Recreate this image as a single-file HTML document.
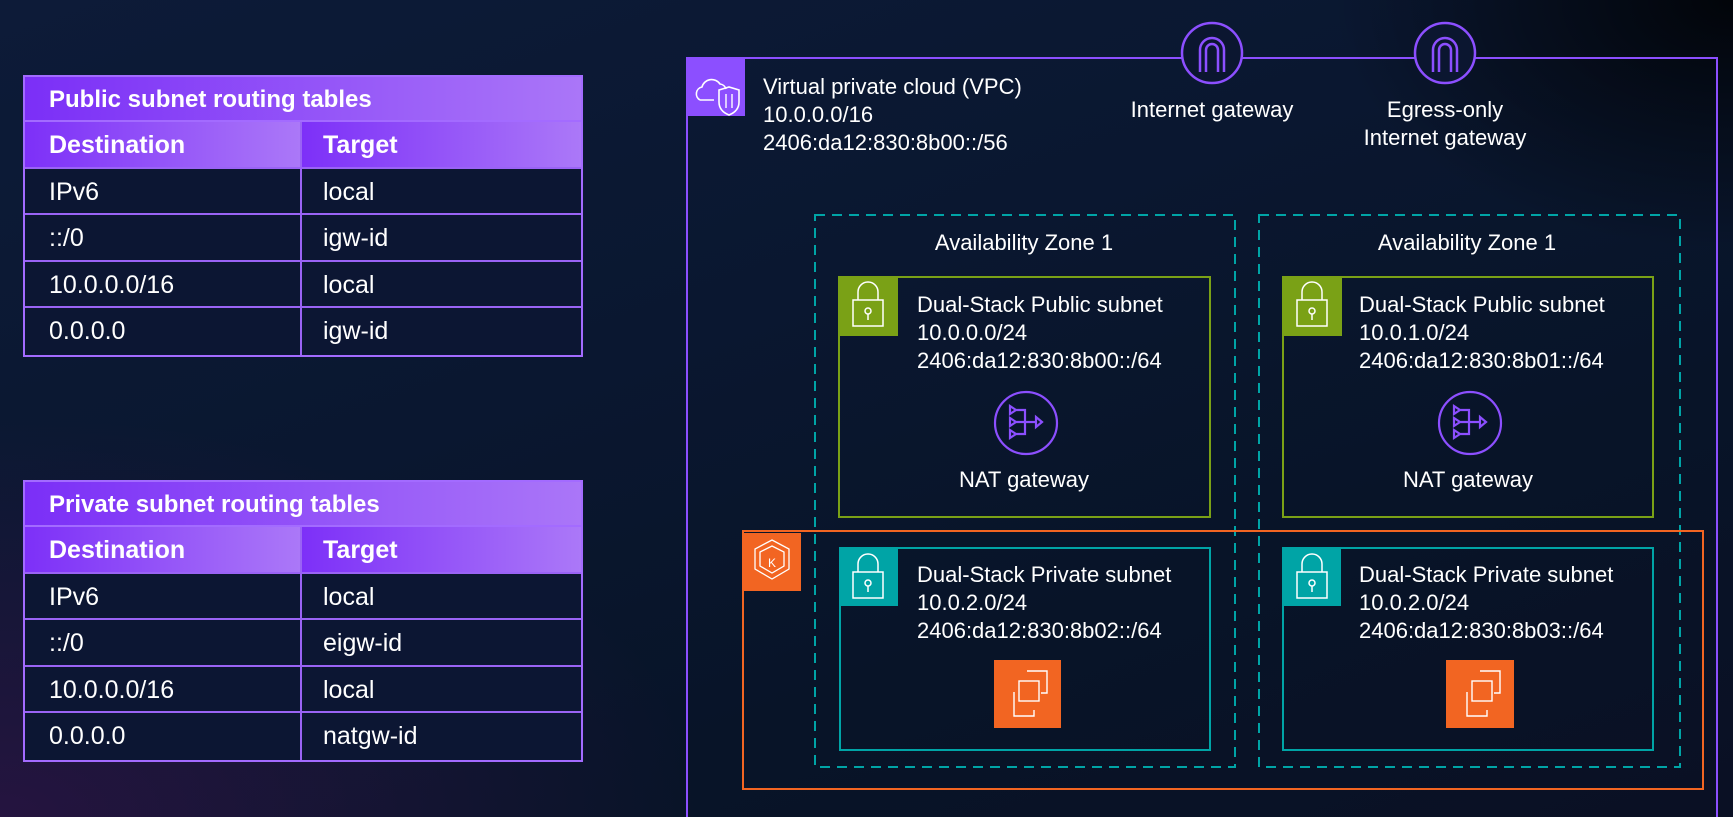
<!DOCTYPE html>
<html><head><meta charset="utf-8"><style>
*{margin:0;padding:0;box-sizing:border-box}
html,body{width:1733px;height:817px;overflow:hidden}
body{position:relative;font-family:"Liberation Sans",sans-serif;color:#fff;
background:linear-gradient(160deg,#0d1b38 0%,#0a1730 40%,#081428 70%,#0a1024 100%);}
.bg2{position:absolute;left:0;top:0;width:1733px;height:817px;background:radial-gradient(ellipse 700px 400px at 0% 100%,rgba(60,20,80,0.55),rgba(0,0,0,0));}
.bg3{position:absolute;left:0;top:0;width:1733px;height:817px;background:radial-gradient(ellipse 400px 250px at 100% 0%,rgba(0,0,0,0.8),rgba(0,0,0,0));}
.t{position:absolute;left:23px;width:560px;border:2px solid #a36bff;background:#0c1633}
.t .title{height:45px;background:linear-gradient(90deg,#7b2ff7,#aa76f8);font-weight:bold;font-size:24px;line-height:46px;padding-left:24px;border-bottom:2px solid #a36bff}
.t .row{display:flex;height:46.5px;border-bottom:2px solid #9a63f5;font-size:25px;line-height:46px}
.t .row:last-child{border-bottom:none}
.t .c1{width:277px;padding-left:24px;border-right:2px solid #9a63f5}
.t .c2{flex:1;padding-left:21px}
.t .hd .c1,.t .hd .c2{background:linear-gradient(90deg,#7d30f8,#ab78f8);font-weight:bold;font-size:25px}
.txt{position:absolute;font-size:22px;line-height:28px;white-space:nowrap}
</style></head><body>
<div class="bg2"></div><div class="bg3"></div>

<div class="t" style="top:75px">
<div class="title">Public subnet routing tables</div>
<div class="row hd"><div class="c1">Destination</div><div class="c2">Target</div></div>
<div class="row"><div class="c1">IPv6</div><div class="c2">local</div></div>
<div class="row"><div class="c1">::/0</div><div class="c2">igw-id</div></div>
<div class="row"><div class="c1">10.0.0.0/16</div><div class="c2">local</div></div>
<div class="row"><div class="c1">0.0.0.0</div><div class="c2">igw-id</div></div>
</div>
<div class="t" style="top:480px">
<div class="title">Private subnet routing tables</div>
<div class="row hd"><div class="c1">Destination</div><div class="c2">Target</div></div>
<div class="row"><div class="c1">IPv6</div><div class="c2">local</div></div>
<div class="row"><div class="c1">::/0</div><div class="c2">eigw-id</div></div>
<div class="row"><div class="c1">10.0.0.0/16</div><div class="c2">local</div></div>
<div class="row"><div class="c1">0.0.0.0</div><div class="c2">natgw-id</div></div>
</div>

<svg width="1733" height="817" style="position:absolute;left:0;top:0" fill="none">
<rect x="687" y="58" width="1030" height="770" stroke="#8c4fff" stroke-width="2"/>
<rect x="686" y="57" width="59" height="59" fill="#8c4fff"/>
<path d="M700 100 h14 M700 100 a7 7 0 0 1 2 -13 a10 10 0 0 1 18 -3 a7 7 0 0 1 6 5" stroke="#fff" stroke-width="1.6"/>
<path d="M719 90 l10 -3 l10 3 v12 c0 7 -5 11 -10 13 c-5 -2 -10 -6 -10 -13z" stroke="#fff" stroke-width="1.6"/>
<path d="M726 94 v14 M732 94 v14" stroke="#fff" stroke-width="1.4"/>
<circle cx="1212" cy="53" r="30" stroke="#8c4fff" stroke-width="2.5" fill="#0b1630"/>
<path d="M1200 72 v-22 a12 12 0 0 1 24 0 v22 M1206 72 v-22 a6 6 0 0 1 12 0 v22" stroke="#8c4fff" stroke-width="2.5"/>
<circle cx="1445" cy="53" r="30" stroke="#8c4fff" stroke-width="2.5" fill="#0b1630"/>
<path d="M1433 72 v-22 a12 12 0 0 1 24 0 v22 M1439 72 v-22 a6 6 0 0 1 12 0 v22" stroke="#8c4fff" stroke-width="2.5"/>
<rect x="815" y="215" width="420" height="552" stroke="#00a4a6" stroke-width="2" stroke-dasharray="10 7"/>
<rect x="1259" y="215" width="421" height="552" stroke="#00a4a6" stroke-width="2" stroke-dasharray="10 7"/>
<rect x="839" y="277" width="371" height="240" stroke="#7aa116" stroke-width="2"/>
<rect x="838" y="276" width="60" height="60" fill="#7aa116"/>
<rect x="1283" y="277" width="370" height="240" stroke="#7aa116" stroke-width="2"/>
<rect x="1282" y="276" width="60" height="60" fill="#7aa116"/>
<rect x="743" y="531" width="960" height="258" stroke="#f26522" stroke-width="2"/>
<rect x="743" y="533" width="58" height="58" fill="#f26522"/>
<path d="M772 540 l17 9 v20 l-17 10 l-17 -10 v-20z M772 546 l12 6 v14 l-12 7 l-12 -7 v-14z" stroke="#fff" stroke-width="1.3"/>
<text x="772" y="567" font-family="Liberation Sans" font-size="12" fill="#fff" text-anchor="middle">K</text>
<rect x="840" y="548" width="370" height="202" stroke="#00a4a6" stroke-width="2"/>
<rect x="839" y="547" width="59" height="59" fill="#00a4a6"/>
<rect x="1283" y="548" width="370" height="202" stroke="#00a4a6" stroke-width="2"/>
<rect x="1282" y="547" width="59" height="59" fill="#00a4a6"/>
<g stroke="#fff" stroke-width="1.5">
<path d="M858 300 v-8 a10 10 0 0 1 20 0 v8 M853 300 h30 v26 h-30z"/><circle cx="868" cy="311" r="3"/><path d="M868 314 v6"/>
<path d="M1302 300 v-8 a10 10 0 0 1 20 0 v8 M1297 300 h30 v26 h-30z"/><circle cx="1312" cy="311" r="3"/><path d="M1312 314 v6"/>
<path d="M858 572 v-8 a10 10 0 0 1 20 0 v8 M853 572 h30 v26 h-30z"/><circle cx="868" cy="583" r="3"/><path d="M868 586 v6"/>
<path d="M1302 572 v-8 a10 10 0 0 1 20 0 v8 M1297 572 h30 v26 h-30z"/><circle cx="1312" cy="583" r="3"/><path d="M1312 586 v6"/>
</g>
<g stroke="#8c4fff" stroke-width="2.2">
<circle cx="1026" cy="423" r="31"/>
<path d="M1010 406 l6 4 l-6 4z M1010 418 l6 4 l-6 4z M1010 430 l6 4 l-6 4z M1016 410 h9 v24 h-9 M1016 422 h20 M1036 417 l6 5 l-6 5z"/>
<circle cx="1470" cy="423" r="31"/>
<path d="M1454 406 l6 4 l-6 4z M1454 418 l6 4 l-6 4z M1454 430 l6 4 l-6 4z M1460 410 h9 v24 h-9 M1460 422 h20 M1480 417 l6 5 l-6 5z"/>
</g>
<rect x="994" y="660" width="67" height="68" fill="#f26522"/>
<rect x="1446" y="660" width="68" height="68" fill="#f26522"/>
<g stroke="#fff" stroke-width="1.4">
<path d="M1027 671 h20 v22 h-6 M1014 692 v24 h20 v-6"/><rect x="1019" y="681" width="20" height="20"/>
<path d="M1480 671 h20 v22 h-6 M1467 692 v24 h20 v-6"/><rect x="1472" y="681" width="20" height="20"/>
</g>
</svg>

<div class="txt" style="left:763px;top:73px">Virtual private cloud (VPC)<br>10.0.0.0/16<br>2406:da12:830:8b00::/56</div>
<div class="txt" style="left:1112px;top:96px;width:200px;text-align:center">Internet gateway</div>
<div class="txt" style="left:1345px;top:96px;width:200px;text-align:center">Egress-only<br>Internet gateway</div>
<div class="txt" style="left:924px;top:229px;width:200px;text-align:center">Availability Zone 1</div>
<div class="txt" style="left:1367px;top:229px;width:200px;text-align:center">Availability Zone 1</div>
<div class="txt" style="left:917px;top:291px">Dual-Stack Public subnet<br>10.0.0.0/24<br>2406:da12:830:8b00::/64</div>
<div class="txt" style="left:1359px;top:291px">Dual-Stack Public subnet<br>10.0.1.0/24<br>2406:da12:830:8b01::/64</div>
<div class="txt" style="left:924px;top:466px;width:200px;text-align:center">NAT gateway</div>
<div class="txt" style="left:1368px;top:466px;width:200px;text-align:center">NAT gateway</div>
<div class="txt" style="left:917px;top:561px">Dual-Stack Private subnet<br>10.0.2.0/24<br>2406:da12:830:8b02::/64</div>
<div class="txt" style="left:1359px;top:561px">Dual-Stack Private subnet<br>10.0.2.0/24<br>2406:da12:830:8b03::/64</div>
</body></html>
